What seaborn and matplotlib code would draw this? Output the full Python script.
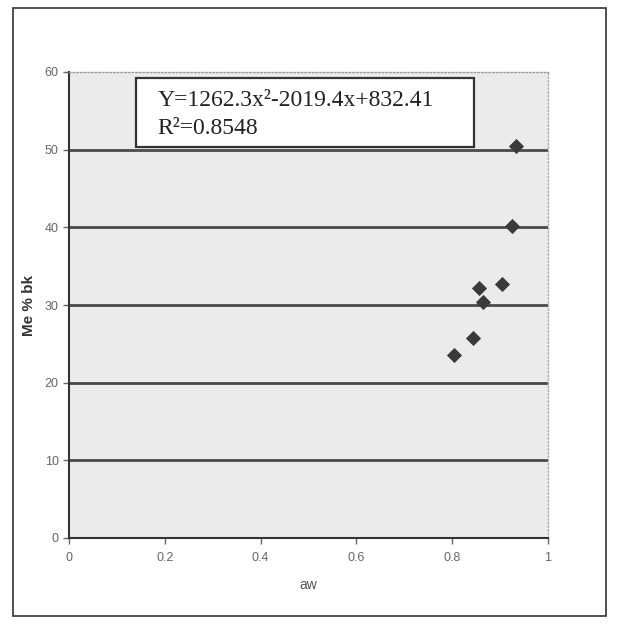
import matplotlib
matplotlib.use("Agg")
import matplotlib.pyplot as plt
import seaborn as sns
import pandas as pd
from matplotlib.patches import Rectangle

aw = [0.803, 0.843, 0.856, 0.865, 0.904, 0.924, 0.933]
me = [23.6, 25.8, 32.2, 30.4, 32.7, 40.2, 50.5]
x_ticks = [0, 0.2, 0.4, 0.6, 0.8, 1]
x_labels = ["0", "0.2", "0.4", "0.6", "0.8", "1"]
y_ticks = [0, 10, 20, 30, 40, 50, 60]
y_labels = ["0", "10", "20", "30", "40", "50", "60"]
eq_line1 = "Y=1262.3x²-2019.4x+832.41"
eq_line2 = "R²=0.8548"

sns.set_theme(style="white")
plt.rcParams['font.family'] = ['Liberation Sans', 'DejaVu Sans']

df = pd.DataFrame({"aw": aw, "Me % bk": me})

fig = plt.figure(figsize=(6.18, 6.25), dpi=100)
fig.patch.set_facecolor("white")
ax = fig.add_axes([0.1117, 0.1392, 0.775, 0.7456])
ax.set_facecolor("#ebebeb")

sns.scatterplot(data=df, x="aw", y="Me % bk", marker="D", color="#3a3a3a",
                s=60, edgecolor="#3a3a3a", linewidth=0, ax=ax, zorder=5)

ax.set_xlim(0, 1)
ax.set_ylim(0, 60)
ax.set_xticks(x_ticks)
ax.set_xticklabels(x_labels)
ax.set_yticks(y_ticks)
ax.set_yticklabels(y_labels)
for y in y_ticks[1:-1]:
    ax.axhline(y, color="#4a4a4a", lw=2.0, zorder=1)

ax.tick_params(axis="both", labelsize=9, colors="#666666", length=4, width=1,
               direction="out", bottom=True, left=True)
ax.tick_params(axis="x", pad=6)
for s in ["left", "bottom"]:
    ax.spines[s].set_color("#333333")
    ax.spines[s].set_linewidth(1.5)
ax.spines["top"].set_color("#999999")
ax.spines["top"].set_linestyle(":")
ax.spines["right"].set_color("#aaaaaa")
ax.spines["right"].set_linestyle(":")
ax.spines["top"].set_linewidth(1)
ax.spines["right"].set_linewidth(1)

ax.set_xlabel("aw", fontsize=10, color="#555555", labelpad=10)
ax.set_ylabel("Me % bk", fontsize=11, color="#333333", fontweight="bold", labelpad=6)

ax.add_patch(Rectangle((0.139, 0.838), 0.706, 0.150, transform=ax.transAxes,
                       facecolor="white", edgecolor="#333333", linewidth=1.6, zorder=6))
serif = ["Liberation Serif", "DejaVu Serif"]
ax.text(0.185, 0.938, eq_line1, transform=ax.transAxes, fontsize=17, family=serif,
        va="center", ha="left", color="#222222", zorder=7)
ax.text(0.185, 0.879, eq_line2, transform=ax.transAxes, fontsize=17, family=serif,
        va="center", ha="left", color="#222222", zorder=7)

fig.patches.append(Rectangle((0.021, 0.014), 0.960, 0.973, transform=fig.transFigure,
                             fill=False, edgecolor="#333333", linewidth=1.2))

fig.savefig("out.png", dpi=100)
